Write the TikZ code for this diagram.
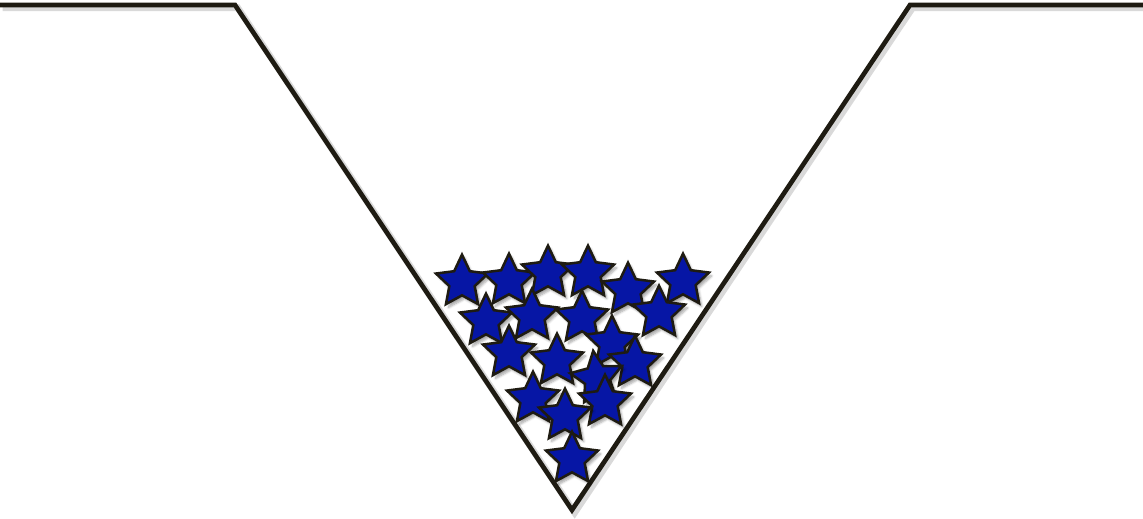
\documentclass[tikz,border=0pt]{standalone}
\usetikzlibrary{shapes.geometric,shadows.blur}
\definecolor{linecol}{RGB}{30,27,18}
\definecolor{starblue}{RGB}{6,22,165}
\tikzset{
  groove/.style={draw=linecol, line width=3.5pt, line join=miter},
  grooveshadow/.style={draw=black, opacity=0.15, line width=5pt},
  bluestar/.style={star, star points=5, star point ratio=2.05, minimum size=41pt, inner sep=0pt,
    draw=linecol, line width=1.9pt, fill=starblue,
    blur shadow={shadow xshift=2pt, shadow yshift=-2.5pt, shadow opacity=35, shadow blur steps=6}},
}
\begin{document}
\begin{tikzpicture}[x=0.75pt,y=-0.75pt]
\useasboundingbox (0,0) rectangle (1143,518);
\coordinate (l0) at (0,5);
\coordinate (l1) at (235,5);
\coordinate (l2) at (572,510);
\coordinate (l3) at (910,5);
\coordinate (l4) at (1143,5);
\draw[grooveshadow] ([xshift=2pt,yshift=-2pt]l0) -- ([xshift=2pt,yshift=-2pt]l1) -- ([xshift=2pt,yshift=-2pt]l2) -- ([xshift=2pt,yshift=-2pt]l3) -- ([xshift=2pt,yshift=-2pt]l4);
\draw[groove] (l0) -- (l1) -- (l2) -- (l3) -- (l4);
% stars
\node[bluestar] (s1) at (462,282) {};
\node[bluestar] (s2) at (509,281) {};
\node[bluestar] (s3) at (548,273) {};
\node[bluestar] (s4) at (588,273) {};
\node[bluestar] (s5) at (683,281) {};
\node[bluestar] (s6) at (628,290) {};
\node[bluestar] (s7) at (486,321) {};
\node[bluestar] (s8) at (532,316) {};
\node[bluestar] (s9) at (582,318) {};
\node[bluestar] (s10) at (659,313) {};
\node[bluestar] (s11) at (612,343) {};
\node[bluestar] (s12) at (509,353) {};
\node[bluestar] (s13) at (557,361) {};
\node[bluestar] (s14) at (635,363) {};
\node[bluestar, rotate=8] (s15) at (597,378) {};
\node[bluestar] (s16) at (605,402) {};
\node[bluestar] (s17) at (533,399) {};
\node[bluestar] (s18) at (565,416) {};
\node[bluestar] (s19) at (572,459) {};
\end{tikzpicture}
\end{document}
